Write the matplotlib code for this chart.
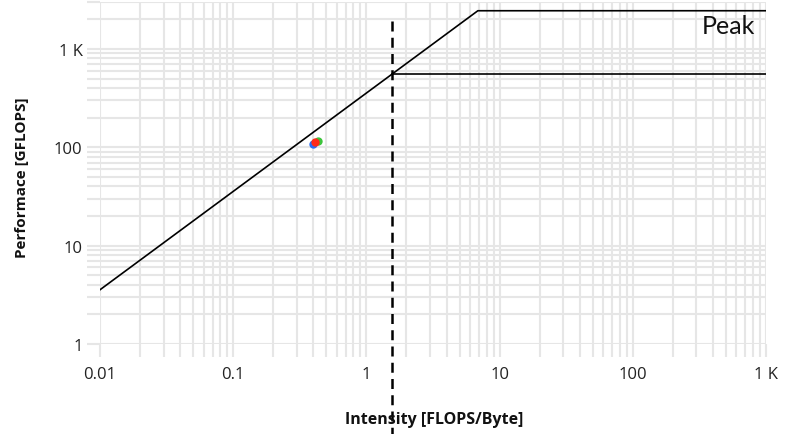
import matplotlib
matplotlib.use("Agg")
import matplotlib.pyplot as plt
import numpy as np
from matplotlib.ticker import FixedLocator, FuncFormatter, LogLocator, NullFormatter

# Data
bandwidth = 356.0            # GB/s (slope of memory roof)
peaks = [2445.0, 556.0]      # compute roofs (GFLOPS)
ridge_marker_x = 1.56        # dashed vertical line intensity
point_intensity = [0.40, 0.436, 0.414]
point_perf = [108, 117, 112]
point_colors = ["#2a6df4", "#3cc43c", "#ff2a1a"]
x_ticks = [0.01, 0.1, 1, 10, 100, 1000]
y_ticks = [1, 10, 100, 1000]
x_range = (0.01, 1000)
y_range = (1, 3000)

plt.rcParams['font.family'] = ['Open Sans', 'DejaVu Sans']

fig = plt.figure(figsize=(7.88, 4.35), dpi=100)
W, H = 788, 435
ax = fig.add_axes([100 / W, (H - 345) / H, (766 - 100) / W, (345 - 3) / H])
ax.set_xscale('log')
ax.set_yscale('log')
ax.set_xlim(*x_range)
ax.set_ylim(*y_range)

for s in ax.spines.values():
    s.set_visible(False)

gridc = '#e6e6e6'
ax.xaxis.set_major_locator(FixedLocator(x_ticks))
ax.yaxis.set_major_locator(FixedLocator(y_ticks))
ax.xaxis.set_minor_locator(LogLocator(base=10, subs=np.arange(2, 10), numticks=20))
ax.yaxis.set_minor_locator(LogLocator(base=10, subs=np.arange(2, 10), numticks=20))
ax.xaxis.set_minor_formatter(NullFormatter())
ax.yaxis.set_minor_formatter(NullFormatter())

def fmt(v, pos):
    if v >= 1000:
        return f"{int(v/1000)} K"
    if v >= 1:
        return f"{int(v)}"
    return f"{v:g}"

ax.xaxis.set_major_formatter(FuncFormatter(fmt))
ax.yaxis.set_major_formatter(FuncFormatter(fmt))
ax.grid(True, which='both', color=gridc, linewidth=1.5)
ax.set_axisbelow(True)
ax.tick_params(which='both', length=9.5, width=1.5, color=gridc, labelsize=12,
               labelcolor='#222222')
ax.tick_params(axis='x', which='major', pad=6)
ax.tick_params(axis='y', which='major', pad=3)

# Roofs
x_knee_top = peaks[0] / bandwidth
ax.plot([x_range[0], x_knee_top, x_range[1]],
        [bandwidth * x_range[0], peaks[0], peaks[0]], color='black', lw=1.2, zorder=3)
x_knee_low = peaks[1] / bandwidth
ax.plot([x_knee_low, x_range[1]], [peaks[1], peaks[1]], color='black', lw=1.2, zorder=3)

# Dashed marker line
ax.plot([ridge_marker_x, ridge_marker_x], [1940, 0.1], color='black', lw=1.8,
        linestyle=(0, (4, 2.5)), clip_on=False, zorder=4)

# Points
for xi, yi, c in zip(point_intensity, point_perf, point_colors):
    ax.plot(xi, yi, 'o', color=c, markersize=6, markeredgewidth=0, zorder=5)

ax.text(755 / W, (H - 26) / H, "Peak", transform=fig.transFigure, ha='right', va='center',
        fontsize=18, family=['Lato', 'DejaVu Sans'], color='#111111')

fig.text(434 / W, (H - 420) / H, "Intensity [FLOPS/Byte]", ha='center', va='center',
         fontsize=11.5, fontweight='bold', color='#111111')
fig.text(22 / W, (H - 178) / H, "Performace [GFLOPS]", ha='center', va='center',
         rotation=90, fontsize=11, fontweight='bold', color='#111111')

fig.savefig("out.png", dpi=100)
